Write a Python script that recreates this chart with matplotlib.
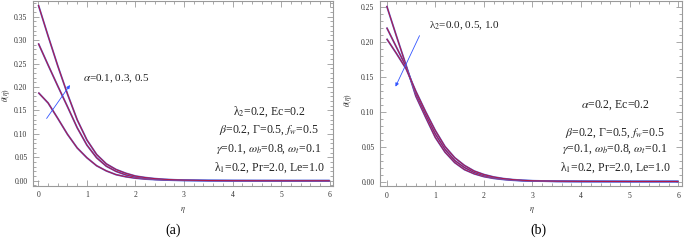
import numpy as np
import matplotlib
matplotlib.use('Agg')
import matplotlib.pyplot as plt
from matplotlib.ticker import MultipleLocator, FormatStrFormatter

plt.rcParams['font.family'] = ['Liberation Serif', 'DejaVu Serif']
plt.rcParams['mathtext.fontset'] = 'stix'

# values
eta = [0, 0.2, 0.4, 0.6, 0.8, 1.0, 1.2, 1.4, 1.6, 1.8, 2.0, 2.2, 2.4, 2.6, 2.8,
       3.0, 3.5, 4.0, 4.5, 5.0, 5.5, 6.0]

# panel (a): alpha = 0.1, 0.3, 0.5
theta_alpha01 = [0.188, 0.166, 0.133, 0.099, 0.070, 0.049, 0.032, 0.021, 0.013, 0.0085, 0.0055,
                 0.0036, 0.0024, 0.0016, 0.001, 0.0007, 0.0003, 0.0001, 0.00005, 0, 0, 0]
theta_alpha03 = [0.293, 0.247, 0.202, 0.158, 0.113, 0.076, 0.049, 0.031, 0.020, 0.0125, 0.008,
                 0.0052, 0.0033, 0.0021, 0.0014, 0.0009, 0.0003, 0.0001, 0.00005, 0, 0, 0]
theta_alpha05 = [0.375, 0.309, 0.245, 0.185, 0.130, 0.087, 0.056, 0.036, 0.024, 0.016, 0.010,
                 0.0068, 0.0045, 0.003, 0.002, 0.0013, 0.0005, 0.0002, 0.00006, 0, 0, 0]

# panel (b): lambda2 = 0.0, 0.5, 1.0
theta_lam00 = [0.251, 0.208, 0.166, 0.122, 0.092, 0.063, 0.042, 0.027, 0.017, 0.011, 0.007,
               0.0045, 0.0029, 0.0018, 0.0011, 0.0007, 0.00025, 0.0001, 0.00004, 0, 0, 0]
theta_lam05 = [0.220, 0.192, 0.164, 0.126, 0.096, 0.068, 0.046, 0.030, 0.020, 0.013, 0.0085,
               0.0055, 0.0035, 0.0022, 0.0014, 0.0009, 0.0003, 0.0001, 0.00004, 0, 0, 0]
theta_lam10 = [0.204, 0.183, 0.161, 0.129, 0.100, 0.073, 0.050, 0.034, 0.023, 0.015, 0.010,
               0.0065, 0.0042, 0.0027, 0.0017, 0.0011, 0.0004, 0.00015, 0.00005, 0, 0, 0]

labels_a = ['\u03bb$_2$=0.2, Ec=0.2',
            '$\\beta$=0.2, \u0393=0.5, $f_w$=0.5',
            '$\\gamma$=0.1, $\\omega_b$=0.8, $\\omega_t$=0.1',
            '\u03bb$_1$=0.2, Pr=2.0, Le=1.0']
labels_b = ['$\\alpha$=0.2, Ec=0.2',
            '$\\beta$=0.2, \u0393=0.5, $f_w$=0.5',
            '$\\gamma$=0.1, $\\omega_b$=0.8, $\\omega_t$=0.1',
            '\u03bb$_1$=0.2, Pr=2.0, Le=1.0']

frame_col = '#9a9a9a'
text_col = '#333333'

fig = plt.figure(figsize=(6.85, 2.4), dpi=100)
ax1 = fig.add_axes([0.0482, 0.227, 0.438, 0.769])
ax2 = fig.add_axes([0.5547, 0.223, 0.4405, 0.773])


def style(ax, ymaj, ymin):
    for s in ax.spines.values():
        s.set_color(frame_col)
        s.set_linewidth(0.8)
    ax.xaxis.set_major_locator(MultipleLocator(1))
    ax.xaxis.set_minor_locator(MultipleLocator(0.2))
    ax.yaxis.set_major_locator(MultipleLocator(ymaj))
    ax.yaxis.set_minor_locator(MultipleLocator(ymin))
    ax.yaxis.set_major_formatter(FormatStrFormatter('%.2f'))
    ax.tick_params(which='both', direction='in', top=True, right=True,
                   color=frame_col, labelsize=5.5, labelcolor=text_col, width=0.6)
    ax.tick_params(which='major', length=4, pad=4)
    ax.tick_params(which='minor', length=2)


def curve(ax, y):
    ax.plot(eta, y, color='#5a6ad8', lw=1.3, solid_capstyle='butt')
    ax.plot(eta, y, color='#b01848', lw=0.75, solid_capstyle='butt')


for y in (theta_alpha01, theta_alpha03, theta_alpha05):
    curve(ax1, y)
ax1.set_xlim(-0.11, 6.07)
ax1.set_ylim(-0.0102, 0.3835)
style(ax1, 0.05, 0.01)

for y in (theta_lam00, theta_lam05, theta_lam10):
    curve(ax2, y)
ax2.set_xlim(-0.138, 6.07)
ax2.set_ylim(-0.0071, 0.258)
style(ax2, 0.05, 0.01)

arrow = dict(arrowstyle='-|>', color='#3355ff', lw=0.6, mutation_scale=5)
ax1.annotate('', xy=(0.684, 0.209), xytext=(0.137, 0.128), arrowprops=arrow)
ax1.text(0.91, 0.218, '$\\alpha$=0.1, 0.3, 0.5', fontsize=8, va='center', color='#222222')
ax2.annotate('', xy=(0.157, 0.132), xytext=(0.70, 0.212), arrowprops=arrow)
ax2.text(0.876, 0.222, '\u03bb$_2$=0.0, 0.5, 1.0', fontsize=8, va='center', color='#222222')

# parameter blocks, positions in pixels from top-left
ys_a = [111.7, 130.7, 149.3, 167.7]
ys_b = [105.7, 133, 149.3, 167.7]
for t, yy in zip(labels_a, ys_a):
    fig.text(269 / 685, 1 - yy / 240, t, fontsize=8.5, ha='center', va='center', color='#222222')
for t, yy in zip(labels_b, ys_b):
    fig.text(615 / 685, 1 - yy / 240, t, fontsize=8.5, ha='center', va='center', color='#222222')

fig.text(6 / 685, 1 - 95 / 240, '$\\theta(\\eta)$', fontsize=5.5, rotation=90,
         ha='center', va='center', color=text_col)
fig.text(348 / 685, 1 - 100 / 240, '$\\theta(\\eta)$', fontsize=5.5, rotation=90,
         ha='center', va='center', color=text_col)
fig.text(183 / 685, 1 - 210 / 240, '$\\eta$', fontsize=6, ha='center', va='center', color=text_col)
fig.text(532 / 685, 1 - 210 / 240, '$\\eta$', fontsize=6, ha='center', va='center', color=text_col)
fig.text(173.5 / 685, 1 - 230 / 240, '(a)', fontsize=10, ha='center', va='center')
fig.text(538 / 685, 1 - 230 / 240, '(b)', fontsize=10, ha='center', va='center')

plt.savefig('out.png', dpi=100)
